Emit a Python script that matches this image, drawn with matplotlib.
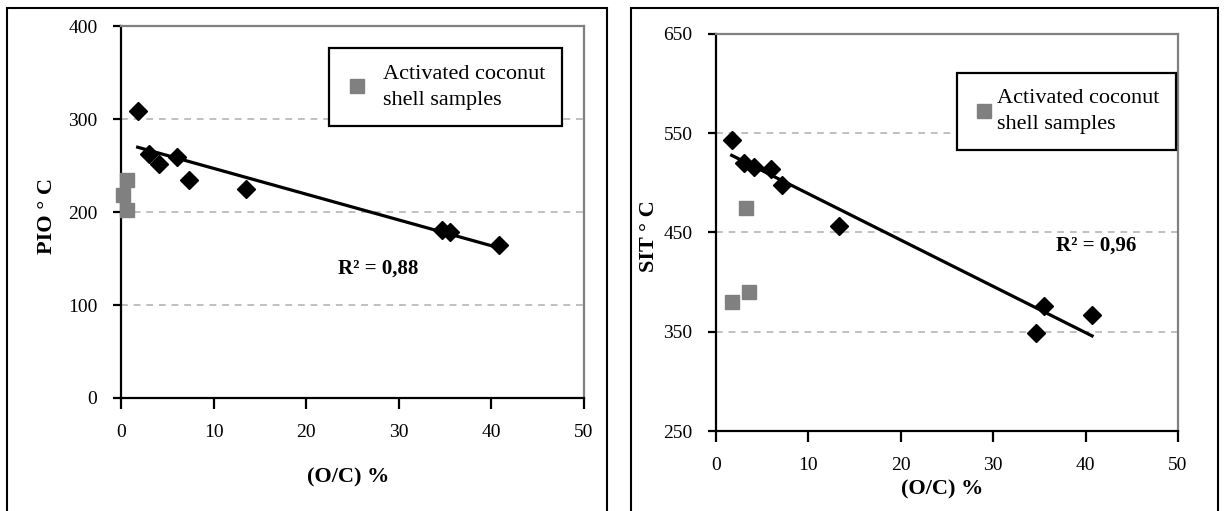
import matplotlib
matplotlib.use('Agg')
import matplotlib.pyplot as plt
import numpy as np
from matplotlib.patches import Rectangle
from matplotlib.lines import Line2D

# O/C (%) and temperatures
oc_pio = [1.8, 3.0, 4.1, 6.0, 7.3, 13.5, 34.7, 35.5, 40.8]
pio = [309, 262, 252, 259, 234, 225, 181, 178, 165]
oc_pio_coco = [0.6, 0.2, 0.6]
pio_coco = [234, 218, 202]

oc_sit = [1.7, 3.05, 4.1, 5.9, 7.15, 13.3, 34.6, 35.5, 40.7]
sit = [543, 520, 516, 514, 498, 457, 349, 376, 367]
oc_sit_coco = [3.3, 1.7, 3.55]
sit_coco = [475, 380, 390]

pio_ticks = [0, 100, 200, 300, 400]
sit_ticks = [250, 350, 450, 550, 650]
oc_ticks = [0, 10, 20, 30, 40, 50]

plt.rcParams['font.family'] = ['Liberation Serif', 'DejaVu Serif']

W, H = 1224, 511
fig = plt.figure(figsize=(W / 100, H / 100), dpi=100)

GREY = '#808080'


def px_ax(l, r, t, b):
    return [l / W, 1 - b / H, (r - l) / W, (b - t) / H]


def panel(ax, x, y, xc, yc, yticks, ylabel, r2, r2_pos, xlab_y, ylab_x, leg_xy, leg_pad):
    ax.set_xlim(0, 50)
    ax.set_ylim(yticks[0], yticks[-1])
    ax.set_xticks(oc_ticks)
    ax.set_yticks(yticks)
    ax.yaxis.grid(True, ls=(0, (3.5, 3)), color='#c0c0c0', lw=1.4, zorder=0)
    ax.set_axisbelow(True)
    for s in ['left', 'bottom']:
        ax.spines[s].set_color('black')
        ax.spines[s].set_linewidth(1.6)
    for s in ['top', 'right']:
        ax.spines[s].set_color(GREY)
        ax.spines[s].set_linewidth(1.6)
    ax.tick_params(axis='both', direction='out', width=1.6, labelsize=14)
    ax.tick_params(axis='y', length=6, pad=11)
    ax.tick_params(axis='x', length=8, pad=11)

    # linear trend over the diamond series
    k, b = np.polyfit(x, y, 1)
    xs = np.array([min(x), max(x)])
    ax.plot(xs, k * xs + b, color='black', lw=2.3, zorder=2)
    ax.plot(x, y, ls='none', marker='D', ms=9.5, color='black', zorder=3)
    ax.plot(xc, yc, ls='none', marker='s', ms=9.5, color=GREY, mec=GREY, zorder=3,
            clip_on=False)

    ax.text(r2_pos[0], r2_pos[1], r2, transform=ax.transAxes, fontsize=15,
            fontweight='bold', va='center', ha='left')

    ax.set_xlabel('(O/C) %', fontsize=16, fontweight='bold')
    ax.xaxis.set_label_coords(0.49, xlab_y)
    ax.xaxis.label.set_va('center')
    ax.set_ylabel(ylabel, fontsize=16, fontweight='bold')
    ax.yaxis.set_label_coords(ylab_x, 0.49)
    ax.yaxis.label.set_va('center')

    h = Line2D([], [], ls='none', marker='s', ms=10, color=GREY, mec=GREY)
    leg = ax.legend([h], ['Activated coconut\nshell samples'], loc='upper left',
                    bbox_to_anchor=(leg_xy[0] / W, 1 - leg_xy[1] / H),
                    bbox_transform=fig.transFigure, fontsize=16, frameon=True,
                    fancybox=False, edgecolor='black', framealpha=1,
                    borderpad=leg_pad[0], handlelength=1.0,
                    handletextpad=leg_pad[1], borderaxespad=0)
    leg.get_frame().set_linewidth(1.6)
    for t in leg.get_texts():
        t.set_linespacing(1.5)


ax1 = fig.add_axes(px_ax(121, 584, 26, 398))
panel(ax1, oc_pio, pio, oc_pio_coco, pio_coco, pio_ticks, 'PIO ° C', 'R² = 0,88',
      (0.469, 0.349), -0.215, -0.16, (329, 48), (0.75, 0.7))

ax2 = fig.add_axes(px_ax(716, 1178, 34, 431))
panel(ax2, oc_sit, sit, oc_sit_coco, sit_coco, sit_ticks, 'SIT ° C', 'R² = 0,96',
      (0.736, 0.468), -0.147, -0.145, (957, 73), (0.72, 0.1))

# outer panel frames
fig.add_artist(Rectangle((7 / W, -0.05), 600 / W, 1.05 - 8 / H, transform=fig.transFigure,
                         fill=False, ec='black', lw=1.5))
fig.add_artist(Rectangle((631 / W, -0.05), 587 / W, 1.05 - 8 / H, transform=fig.transFigure,
                         fill=False, ec='black', lw=1.5))

fig.savefig('out.png', dpi=100)
